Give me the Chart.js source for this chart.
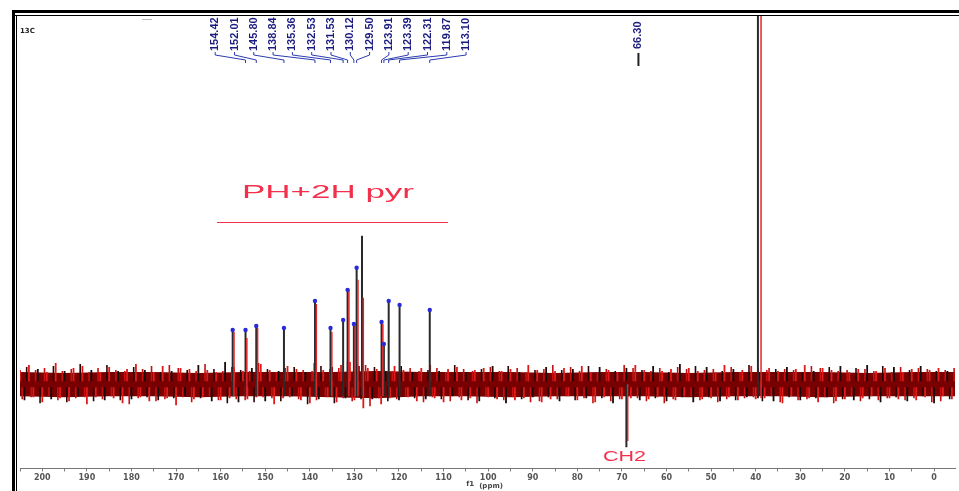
<!DOCTYPE html>
<html>
<head>
<meta charset="utf-8">
<script src="https://cdn.jsdelivr.net/npm/chart.js@4.4.1/dist/chart.umd.min.js"></script>
<style>
  body { margin: 0; background: #fff; }
  #wrap { width: 959px; height: 491px; }
</style>
</head>
<body>
<div id="wrap"><canvas id="nmrChart" width="959" height="491"></canvas></div>
<script>
// 13C spectrum, f1 in ppm, intensity in arbitrary units (baseline = 0)
// baseline noise, read roughly: noiseA at 205, 204 ... -5 ppm, noiseB at 204.5, 203.5 ... -4.5 ppm
const noiseA = [
  14,-16,19,-13,15,-18,12,-15,21,-14,
  13,-17,16,-12,18,-20,14,-13,12,-16,
  17,-14,13,-19,15,-15,20,-13,14,-17,
  12,-16,18,-14,13,-21,16,-12,15,-15,
  19,-13,14,-17,12,-16,22,-14,17,-18,
  13,-15,16,-13,20,-17,14,-20,13,-14,
  18,-12,15,-16,12,-19,21,-15,14,-13,
  17,-18,19,-14,22,-16,18,-24,16,-15,
  15,-20,13,-14,18,-16,14,-13,12,-17,
  16,-15,19,-14,13,-18,15,-12,17,-16,
  12,-14,14,-17,16,-13,18,-15,13,-19,
  15,-16,12,-14,19,-13,14,-18,17,-15,
  13,-17,16,-12,15,-16,18,-14,12,-18,
  17,-13,14,-19,12,-15,16,-14,19,-16,
  14,-15,18,-13,13,-17,15,-16,20,-12,
  16,-18,13,-15,17,-14,12,-17,19,-13,
  15,-16,14,-13,18,-15,12,-14,16,-17,
  13,-19,17,-12,15,-16,19,-14,13,-18,
  16,-13,14,-17,18,-15,12,-16,15,-14,
  19,-12,13,-18,16,-14,17,-15,12,-17,
  15,-16,18,-13,14,-19,16,-12,13,-15,17
];
const noiseB = [
  -15,17,-13,14,-19,16,-12,18,-16,13,
  -18,15,-14,20,-13,12,-17,16,-15,19,
  -12,14,-16,13,-20,17,-14,15,-13,18,
  -17,12,-15,19,-14,16,-13,14,-18,13,
  -14,20,-12,15,-16,13,-19,17,-15,14,
  -16,13,-18,21,-13,15,-14,12,-17,16,
  -13,17,-15,14,-20,13,-16,18,-12,15,
  -19,16,-14,23,-17,20,-15,19,-22,17,
  -14,15,-17,13,-15,18,-12,16,-14,13,
  -18,14,-13,16,-15,12,-17,19,-13,15,
  -16,13,-19,15,-12,17,-14,13,-16,18,
  -13,16,-15,12,-18,14,-17,15,-13,19,
  -15,14,-12,17,-16,13,-14,18,-19,12,
  -14,15,-17,13,-15,19,-12,16,-14,14,
  -17,13,-14,16,-19,12,-15,17,-13,15,
  -12,18,-16,14,-13,15,-18,13,-15,17,
  -16,12,-14,19,-13,16,-17,14,-12,15,
  -18,15,-13,14,-16,12,-15,18,-14,16,
  -13,17,-19,13,-15,14,-12,16,-17,15,
  -15,13,-16,18,-14,12,-13,17,-16,14,
  -14,16,-12,15,-18,13,-17,14,-15,16
];
// core of the noise band, every 10 ppm from 205 down to -5
const bandPpm = [205,195,185,175,165,155,145,135,125,115,105,95,85,75,65,55,45,35,25,15,5,-5];
const bandHi = [12,11,12,12,11,12,12,12,13,12,12,12,11,12,12,11,12,12,12,11,12,12];
const bandLo = [-12,-13,-12,-12,-13,-12,-12,-13,-14,-12,-12,-13,-12,-12,-12,-13,-12,-12,-13,-12,-12,-12];

const peakPpm = [157.3,154.42,152.01,145.80,138.84,135.36,132.53,131.53,130.12,129.50,128.3,123.91,123.39,122.31,119.87,113.10];
const peakHeight = [54,54,58,56,83,56,64,94,60,116,148,62,40,83,79,74];
const peakRed = [52,46,56,0,80,52,0,94,60,104,86,60,0,0,0,0];
const peakDot = [1,1,1,1,1,1,1,1,1,1,0,1,1,1,1,1];

const labelPpm = [154.42,152.01,145.80,138.84,135.36,132.53,131.53,130.12,129.50,123.91,123.39,122.31,119.87,113.10];
const sideLabel = 66.30;

const solventPpm = [39.5, 38.8];
const solventHeight = 420;
const ch2Ppm = 69.0;
const ch2Value = -63;

const xTicksMajor = 10;

// ---- build datasets ----
const hiPts = bandPpm.map((p, i) => ({ x: p, y: bandHi[i] }));
const loPts = bandPpm.map((p, i) => ({ x: p, y: bandLo[i] }));

function sticks(ppms, tops, base, shift) {
  const out = [];
  ppms.forEach((p, i) => {
    if (!tops[i]) return;
    out.push({ x: p + shift, y: base }, { x: p + shift, y: tops[i] }, { x: p + shift, y: null });
  });
  return out;
}
function noiseSticks(vals, start) {
  const out = [];
  vals.forEach((v, i) => {
    const x = start - i;
    out.push({ x, y: v > 0 ? 3 : -3 }, { x, y: v }, { x, y: null });
  });
  return out;
}

const blackPeaks = sticks(peakPpm, peakHeight, -12, 0)
  .concat(sticks([solventPpm[0]], [solventHeight], -14, 0))
  .concat(sticks([ch2Ppm], [ch2Value], 0, 0));
const redPeaks = sticks(peakPpm, peakRed, -12, -0.3)
  .concat(sticks([solventPpm[1]], [solventHeight], -14, 0))
  .concat(sticks([ch2Ppm], [ch2Value * 0.9], 0, -0.3));
const dots = peakPpm.map((p, i) => ({ x: p, y: peakHeight[i] })).filter((d, i) => peakDot[i]);

const decor = {
  id: 'decor',
  afterDraw(chart) {
    const ctx = chart.ctx;
    const xs = chart.scales.x;
    ctx.save();
    // frame
    ctx.fillStyle = '#000';
    ctx.fillRect(12, 10, 947, 3);
    ctx.fillRect(12, 15, 947, 1);
    ctx.fillRect(12, 10, 3, 481);
    ctx.fillRect(16, 15, 1, 476);
    ctx.fillStyle = '#bbb';
    ctx.fillRect(142, 19, 10, 1);

    ctx.fillStyle = '#222';
    ctx.font = 'bold 7px "DejaVu Sans"';
    ctx.textBaseline = 'middle';
    ctx.fillText('13C', 20, 31);

    // peak labels
    const navy = '#1c1c80';
    const pxs = labelPpm.map(p => xs.getPixelForValue(p));
    const mid = (pxs[0] + pxs[pxs.length - 1]) / 2 + 3;
    const gap = 19.3;
    ctx.font = 'bold 11px "Liberation Sans"';
    ctx.textBaseline = 'middle';
    ctx.textAlign = 'left';
    labelPpm.forEach((p, i) => {
      const lx = mid + (i - (labelPpm.length - 1) / 2) * gap;
      ctx.save();
      ctx.translate(lx, 51);
      ctx.rotate(-Math.PI / 2);
      ctx.fillStyle = navy;
      ctx.fillText(p.toFixed(2), 0, 0);
      ctx.restore();
      ctx.strokeStyle = '#2b3bb0';
      ctx.lineWidth = 1;
      ctx.beginPath();
      ctx.moveTo(lx, 52);
      ctx.lineTo(lx, 55);
      ctx.lineTo(pxs[i], 60);
      ctx.lineTo(pxs[i], 63);
      ctx.stroke();
    });
    const sx = xs.getPixelForValue(sideLabel);
    ctx.save();
    ctx.translate(sx, 49);
    ctx.rotate(-Math.PI / 2);
    ctx.fillStyle = navy;
    ctx.fillText(sideLabel.toFixed(2), 0, 0);
    ctx.restore();
    ctx.fillStyle = '#222';
    ctx.fillRect(sx - 1, 53, 2, 13);

    // annotations
    const red = '#f2304c';
    function wideText(txt, x, y, w, font) {
      ctx.font = font;
      const m = ctx.measureText(txt).width;
      ctx.save();
      ctx.translate(x, y);
      ctx.scale(w / m, 1);
      ctx.fillStyle = red;
      ctx.textAlign = 'left';
      ctx.textBaseline = 'alphabetic';
      ctx.fillText(txt, 0, 0);
      ctx.restore();
    }
    wideText('PH+2H pyr', 242, 198, 172, '18px "Liberation Sans"');
    ctx.fillStyle = red;
    ctx.fillRect(217, 222, 231, 1);
    wideText('CH2', 603, 461, 43, '14px "Liberation Sans"');

    // axis title
    ctx.fillStyle = '#444';
    ctx.font = 'bold 7px "DejaVu Sans"';
    ctx.textAlign = 'left';
    ctx.textBaseline = 'middle';
    const ax = xs.getPixelForValue(100);
    ctx.fillText('f1', ax - 22, 484);
    ctx.fillText('(ppm)', ax - 9, 486);
    ctx.restore();
  }
};

// every third noise stick black, the rest red
const mixColor = (c1, c2) => ({ borderColor: c => (Math.floor(c.p0DataIndex / 3) % 3 === 1 ? c2 : c1) });

new Chart(document.getElementById('nmrChart'), {
  type: 'scatter',
  data: {
    datasets: [
      { data: dots, showLine: false, pointRadius: 2.2, pointBackgroundColor: '#2a2ad8', pointBorderWidth: 0, order: 0 },
      { data: redPeaks, showLine: true, spanGaps: false, borderColor: '#e3262c', borderWidth: 1.5, pointRadius: 0, order: 1 },
      { data: blackPeaks, showLine: true, spanGaps: false, borderColor: '#2a2a2a', borderWidth: 2, pointRadius: 0, order: 2 },
      { data: noiseSticks(noiseA, 205), showLine: true, spanGaps: false, borderColor: '#e01a1a', borderWidth: 1.8, pointRadius: 0, segment: mixColor('#e01a1a', '#1a0a0a'), order: 3 },
      { data: noiseSticks(noiseB, 204.5), showLine: true, spanGaps: false, borderColor: '#c41010', borderWidth: 1.6, pointRadius: 0, segment: mixColor('#c41010', '#2a0505'), order: 4 },
      { data: hiPts, showLine: true, borderColor: '#7a0000', borderWidth: 0, pointRadius: 0, fill: '+1', backgroundColor: '#780000', order: 5 },
      { data: loPts, showLine: true, borderColor: '#7a0000', borderWidth: 0, pointRadius: 0, order: 6 }
    ]
  },
  options: {
    responsive: false,
    animation: false,
    layout: { padding: { left: 20, right: 1, top: 16, bottom: 6 } },
    plugins: { legend: { display: false }, tooltip: { enabled: false } },
    scales: {
      x: {
        type: 'linear',
        reverse: true,
        min: -4.7,
        max: 205,
        border: { display: true, color: '#777', width: 1 },
        grid: { drawOnChartArea: false, drawTicks: true, tickLength: 3, color: '#777' },
        ticks: {
          stepSize: 5,
          includeBounds: false,
          autoSkip: false,
          maxRotation: 0,
          padding: 2,
          color: '#555',
          font: { family: 'DejaVu Sans', size: 8, weight: 'bold' },
          callback: v => (v % xTicksMajor === 0 ? v : '')
        }
      },
      y: { display: false, min: -84, max: 367 }
    }
  },
  plugins: [decor]
});
</script>
</body>
</html>
